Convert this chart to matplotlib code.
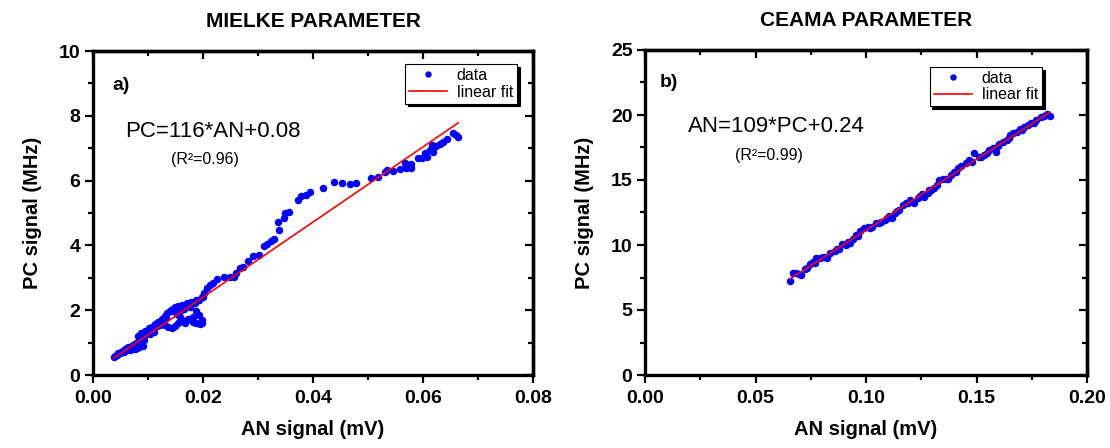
import numpy as np
import matplotlib
matplotlib.use("Agg")
import matplotlib.pyplot as plt
from matplotlib.ticker import MultipleLocator, FormatStrFormatter

plt.rcParams['font.family'] = ['Liberation Sans', 'DejaVu Sans']

# ---------------- data ----------------
titles = ["MIELKE PARAMETER", "CEAMA PARAMETER"]
panel_tags = ["a)", "b)"]
equations = ["PC=116*AN+0.08", "AN=109*PC+0.24"]
r2_texts = ["(R²=0.96)", "(R²=0.99)"]
slopes = [116, 109]
intercepts = [0.08, 0.24]

an_a = [0.0040, 0.0043, 0.0046, 0.0049, 0.0052, 0.0055, 0.0058, 0.0061, 0.0064, 0.0067,
        0.0070, 0.0073, 0.0076, 0.0079, 0.0082, 0.0085, 0.0081, 0.0088, 0.0067, 0.0076,
        0.0084, 0.0088, 0.0092, 0.0095, 0.0101, 0.0107, 0.0113, 0.0119, 0.0125, 0.0131,
        0.0135, 0.0141, 0.0149, 0.0155, 0.0161, 0.0170, 0.0179, 0.0188, 0.0198, 0.0202,
        0.0207, 0.0213, 0.0219, 0.0225, 0.0238, 0.0249, 0.0256, 0.0260, 0.0267, 0.0273,
        0.0282, 0.0291, 0.0302, 0.0310, 0.0316, 0.0323, 0.0329, 0.0339, 0.0337, 0.0347,
        0.0349, 0.0357, 0.0373, 0.0379, 0.0387, 0.0395, 0.0419, 0.0438, 0.0452, 0.0468,
        0.0478, 0.0505, 0.0519, 0.0531, 0.0535, 0.0545, 0.0558, 0.0567, 0.0569, 0.0579,
        0.0579, 0.0591, 0.0598, 0.0604, 0.0607, 0.0613, 0.0616, 0.0619, 0.0624, 0.0631,
        0.0637, 0.0643, 0.0655, 0.0660, 0.0664,
        0.0131, 0.0137, 0.0143, 0.0149, 0.0155, 0.0161, 0.0167, 0.0173, 0.0182, 0.0188,
        0.0193, 0.0198, 0.0199, 0.0195, 0.0187, 0.0181, 0.0158, 0.0152, 0.0140, 0.0146,
        0.0155, 0.0122, 0.0128, 0.0110, 0.0104,
        0.0038, 0.0045, 0.0050, 0.0056, 0.0060, 0.0063, 0.0069, 0.0072, 0.0078, 0.0083,
        0.0086, 0.0090, 0.0094, 0.0098, 0.0105, 0.0116, 0.0121, 0.0133, 0.0145, 0.0158,
        0.0166, 0.0176, 0.0185, 0.0192, 0.0200, 0.0090, 0.0080, 0.0071]
pc_a = [0.59, 0.62, 0.67, 0.69, 0.72, 0.75, 0.79, 0.82, 0.85, 0.87,
        0.90, 0.93, 0.96, 0.99, 1.03, 1.13, 1.20, 1.29, 0.77, 0.79,
        0.85, 0.98, 1.08, 1.37, 1.44, 1.49, 1.57, 1.65, 1.72, 1.82,
        1.90, 2.01, 2.11, 2.13, 2.16, 2.21, 2.26, 2.32, 2.42, 2.52,
        2.68, 2.78, 2.83, 2.95, 3.01, 3.04, 3.01, 3.16, 3.29, 3.34,
        3.53, 3.67, 3.70, 3.98, 4.04, 4.14, 4.19, 4.46, 4.73, 4.84,
        4.99, 5.04, 5.40, 5.51, 5.56, 5.66, 5.78, 5.97, 5.92, 5.90,
        5.92, 6.09, 6.12, 6.25, 6.33, 6.31, 6.37, 6.53, 6.38, 6.51,
        6.38, 6.69, 6.69, 6.86, 6.74, 6.95, 7.10, 6.89, 7.07, 7.13,
        7.20, 7.28, 7.48, 7.41, 7.36,
        1.54, 1.47, 1.44, 1.51, 1.62, 1.70, 1.62, 1.72, 1.80, 1.96,
        1.85, 1.70, 1.59, 1.57, 1.59, 1.65, 1.80, 1.88, 1.96, 2.03,
        2.11, 1.55, 1.60, 1.33, 1.26,
        0.55, 0.64, 0.70, 0.72, 0.78, 0.80, 0.84, 0.86, 0.88, 0.92,
        0.95, 1.18, 1.25, 1.32, 1.40, 1.52, 1.60, 1.76, 1.98, 1.98,
        2.05, 2.10, 2.22, 2.30, 2.40, 0.88, 0.82, 0.80]

an_b = [0.0658, 0.0670, 0.0685, 0.0707, 0.0722, 0.0745, 0.0760, 0.0775, 0.0790, 0.0805,
        0.0823, 0.0838, 0.0858, 0.0880, 0.0892, 0.0910, 0.0926, 0.0941, 0.0956, 0.0974,
        0.0993, 0.1008, 0.1026, 0.1046, 0.1069, 0.1084, 0.1106, 0.1118, 0.1133, 0.1151,
        0.1166, 0.1181, 0.1199, 0.1219, 0.1234, 0.1254, 0.1264, 0.1279, 0.1294, 0.1309,
        0.1332, 0.1350, 0.1370, 0.1385, 0.1400, 0.1415, 0.1430, 0.1452, 0.1467, 0.1490,
        0.1510, 0.1535, 0.1558, 0.1573, 0.1588, 0.1603, 0.1618, 0.1636, 0.1651, 0.1666,
        0.1681, 0.1696, 0.1716, 0.1731, 0.1746, 0.1771, 0.1791, 0.1821, 0.1832,
        0.0695, 0.0733, 0.0768, 0.0815, 0.0869, 0.0918, 0.0965, 0.1016, 0.1058, 0.1096,
        0.1142, 0.1190, 0.1244, 0.1286, 0.1320, 0.1362, 0.1408, 0.1478, 0.1522, 0.1546,
        0.1596, 0.1645, 0.1706, 0.1760, 0.1805]
pc_b = [7.26, 7.82, 7.87, 7.69, 8.13, 8.54, 8.72, 8.97, 8.97, 9.10,
        8.97, 9.36, 9.56, 9.67, 10.08, 10.00, 10.13, 10.44, 10.77, 11.10,
        11.28, 11.41, 11.41, 11.72, 11.79, 11.92, 12.23, 12.05, 12.44, 12.69,
        13.08, 13.26, 13.46, 13.20, 13.59, 13.92, 13.72, 13.97, 14.23, 14.36,
        15.00, 15.05, 15.05, 15.38, 15.64, 15.90, 16.08, 16.28, 16.54, 17.05,
        16.74, 16.92, 17.31, 17.44, 17.18, 17.77, 17.95, 18.08, 18.46, 18.59,
        18.72, 18.90, 19.05, 19.23, 19.36, 19.62, 19.82, 20.08, 19.92,
        7.80, 8.20, 8.60, 9.05, 9.70, 10.25, 10.70, 11.30, 11.70, 12.10,
        12.60, 13.20, 13.80, 14.20, 14.60, 15.10, 15.60, 16.40, 16.80, 17.05,
        17.60, 18.20, 18.85, 19.40, 19.90]

x_limits = [(0, 0.08), (0, 0.20)]
y_limits = [(0, 10), (0, 25)]
x_major = [0.02, 0.05]
x_minor = [0.01, 0.025]
y_major = [2, 5]
y_minor = [1, 2.5]
x_label = "AN signal (mV)"
y_label = "PC signal (MHz)"

# ---------------- figure ----------------
fig = plt.figure(figsize=(11.1, 4.48), dpi=100)
axes_rects = [[93 / 1110, 73 / 448, 440 / 1110, 324 / 448],
              [645 / 1110, 73 / 448, 442 / 1110, 325 / 448]]
legend_anchor = [(0.964, 0.960), (0.898, 0.948)]
eq_pos = [(0.0058, 7.53), (0.0194, 19.1)]
r2_pos = [(0.0142, 6.64), (0.0406, 16.9)]
tag_pos = [(0.043, 0.895), (0.034, 0.90)]

datasets = [(an_a, pc_a), (an_b, pc_b)]
spine_w = 2.4

for i in range(2):
    ax = fig.add_axes(axes_rects[i])
    xs = np.array(datasets[i][0])
    ys = np.array(datasets[i][1])
    ax.plot(xs, ys, 'o', color='#0000ff', markersize=5.4, markeredgewidth=0,
            label='data', zorder=2)
    xf = np.array([xs.min(), xs.max()])
    ax.plot(xf, slopes[i] * xf + intercepts[i], '-', color='red', lw=1.2,
            label='linear fit', zorder=3)

    ax.set_xlim(*x_limits[i])
    ax.set_ylim(*y_limits[i])
    ax.xaxis.set_major_locator(MultipleLocator(x_major[i]))
    ax.xaxis.set_minor_locator(MultipleLocator(x_minor[i]))
    ax.yaxis.set_major_locator(MultipleLocator(y_major[i]))
    ax.yaxis.set_minor_locator(MultipleLocator(y_minor[i]))
    ax.xaxis.set_major_formatter(FormatStrFormatter('%.2f'))
    ax.yaxis.set_major_formatter(FormatStrFormatter('%d'))

    ax.tick_params(which='both', direction='out', top=False, right=False,
                   width=1.6, labelsize=14)
    ax.tick_params(which='major', length=6)
    ax.tick_params(which='minor', length=3.5)
    ax.tick_params(axis='x', pad=5)
    ax.tick_params(axis='y', pad=3)
    for lab in ax.get_xticklabels() + ax.get_yticklabels():
        lab.set_fontweight('bold')
    for sp in ax.spines.values():
        sp.set_linewidth(spine_w)

    secx = ax.secondary_xaxis('top')
    secx.xaxis.set_major_locator(MultipleLocator(x_major[i]))
    secx.xaxis.set_minor_locator(MultipleLocator(x_minor[i]))
    secx.tick_params(which='both', direction='in', labeltop=False, width=1.6)
    secx.tick_params(which='major', length=6)
    secx.tick_params(which='minor', length=3.5)
    secx.spines['top'].set_linewidth(spine_w)
    secy = ax.secondary_yaxis('right')
    secy.yaxis.set_major_locator(MultipleLocator(y_major[i]))
    secy.yaxis.set_minor_locator(MultipleLocator(y_minor[i]))
    secy.tick_params(which='both', direction='in', labelright=False, width=1.6)
    secy.tick_params(which='major', length=6)
    secy.tick_params(which='minor', length=3.5)
    secy.spines['right'].set_linewidth(spine_w)

    ax.set_xlabel(x_label, fontsize=14.5, fontweight='bold', labelpad=9)
    ax.set_ylabel(y_label, fontsize=14.5, fontweight='bold', labelpad=12)
    ax.set_title(titles[i], fontsize=15, fontweight='bold', pad=17)

    ax.text(tag_pos[i][0], tag_pos[i][1], panel_tags[i], transform=ax.transAxes,
            fontsize=14, fontweight='bold', ha='left', va='center')
    ax.text(eq_pos[i][0], eq_pos[i][1], equations[i], fontsize=16,
            ha='left', va='center')
    ax.text(r2_pos[i][0], r2_pos[i][1], r2_texts[i], fontsize=11.5,
            ha='left', va='center')

    leg = ax.legend(loc='upper right', bbox_to_anchor=legend_anchor[i],
                    borderaxespad=0, fancybox=False, framealpha=1,
                    edgecolor='black', fontsize=11.5, handlelength=2.4,
                    labelspacing=0.1, borderpad=0.25, handletextpad=0.6,
                    numpoints=1, markerscale=0.85,
                    shadow={'color': 'black', 'alpha': 1})
    leg.get_frame().set_linewidth(0.8)

fig.savefig('out.png', dpi=100)
